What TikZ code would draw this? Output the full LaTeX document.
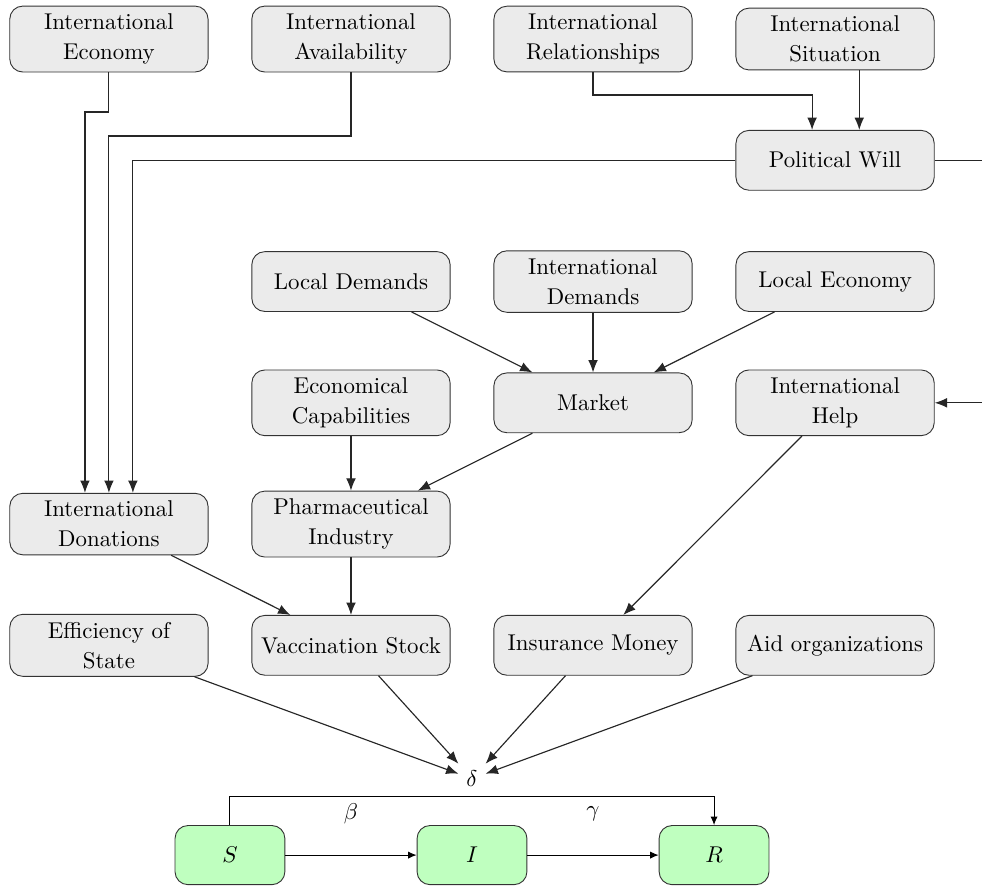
\documentclass[tikz,border=0pt]{standalone}
\usepackage{amsmath,amssymb}
\usepackage[dvipsnames]{xcolor}
\usepackage{tikz}
\usetikzlibrary{arrows.meta}
\usetikzlibrary{calc}

\begin{document}
\begin{tikzpicture}[x=3.723cm,y=1.865cm]
	\tikzstyle{factor}=[draw=black!80, fill=black!8, rounded corners=2mm, align=center, minimum width=3.05cm, minimum height=0.92cm, font=\linespread{1.1}\selectfont]
	\tikzstyle{state}=[draw=black!80, fill=green!25, rounded corners=2mm, minimum width=1.69cm, minimum height=0.91cm]
	\tikzstyle{link}=[black!85, line width=0.5pt, -{Latex[length=1.9mm,width=1.5mm]}]
	\tikzstyle{flow}=[black, -{Latex[length=1.3mm,width=1.1mm]}]
	\useasboundingbox (-0.45,0.322) rectangle (3.607,-6.997);
	% outer factors
	\node [factor] (ieco) at (0,0) {International\\Economy};
	\node [factor] (iava) at (1,0) {International\\Availability};
	\node [factor] (irel) at (2,0) {International\\Relationships};
	\node [factor] (isit) at (3,0) {International\\Situation};
	\node [factor] (pwill) at (3,-1) {Political Will};
	\node [factor] (ldem) at (1,-2) {Local Demands};
	\node [factor] (idem) at (2,-2) {International\\Demands};
	\node [factor] (leco) at (3,-2) {Local Economy};
	\node [factor] (ecap) at (1,-3) {Economical\\Capabilities};
	\node [factor] (market) at (2,-3) {Market};
	\node [factor] (ihelp) at (3,-3) {International\\Help};
	\node [factor] (idon) at (0,-4) {International\\Donations};
	\node [factor] (pharma) at (1,-4) {Pharmaceutical\\Industry};
	\node [factor] (eff) at (0,-5) {Efficiency of\\State};
	\node [factor] (vstock) at (1,-5) {Vaccination Stock};
	\node [factor] (insur) at (2,-5) {Insurance Money};
	\node [factor] (aid) at (3,-5) {Aid organizations};
	\node (delta) at (1.5,-6.1) {$\delta$};
	% SIR model
	\node [state] (S) at (0.5,-6.73) {$S$};
	\node [state] (I) at (1.5,-6.73) {$I$};
	\node [state] (R) at (2.5,-6.73) {$R$};
	% links
	\draw [link] (ieco.south) |- (-0.099,-0.602) -| ($(idon.north)+(-0.099,0)$);
	\draw [link] (iava.south) |- (0,-0.8) -| (idon.north);
	\draw [link] (pwill.west) -| ($(idon.north)+(0.099,0)$);
	\draw [link] (irel.south) |- (2.905,-0.462) -| ($(pwill.north)+(-0.095,0)$);
	\draw [link] ($(isit.south)+(0.1,0)$) -- ($(pwill.north)+(0.1,0)$);
	\draw [link] (pwill.east) -- ++(0.5,0) |- (ihelp.east);
	\draw [link] (ldem) -- (market);
	\draw [link] (idem) -- (market);
	\draw [link] (leco) -- (market);
	\draw [link] (ecap) -- (pharma);
	\draw [link] (market) -- (pharma);
	\draw [link] (ihelp) -- (insur);
	\draw [link] (idon) -- (vstock);
	\draw [link] (pharma) -- (vstock);
	\draw [link] (eff) -- (delta);
	\draw [link] (vstock) -- (delta);
	\draw [link] (insur) -- (delta);
	\draw [link] (aid) -- (delta);
	\draw [flow] (S) -- node [midway, yshift=0.64cm] {$\beta$} (I);
	\draw [flow] (I) -- node [midway, yshift=0.64cm] {$\gamma$} (R);
	\draw [flow] (S.north) |- (2.5,-6.246) -| (R.north);
\end{tikzpicture}
\end{document}
